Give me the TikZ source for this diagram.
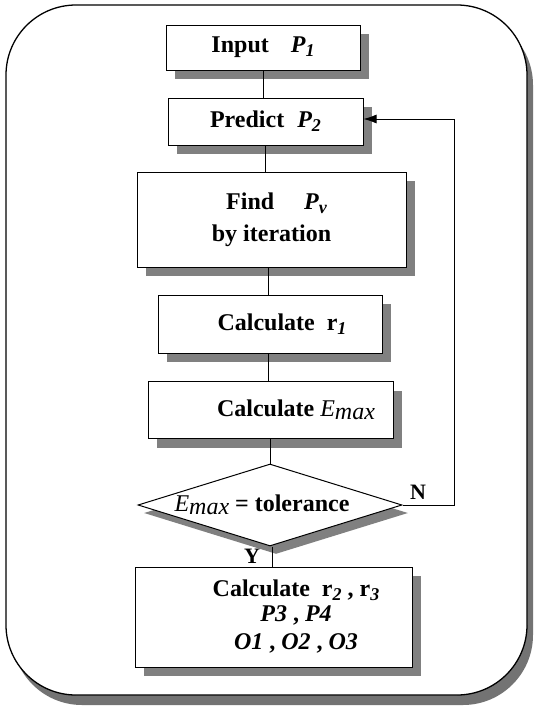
\documentclass[tikz,border=0pt]{standalone}
\usepackage{fontspec}
\setmainfont{Liberation Serif}
\usetikzlibrary{shapes.geometric,shadows,arrows.meta}
\newcommand\bi[1]{{\bfseries\itshape #1}}
\newcommand\sbs[1]{\raisebox{-0.35ex}{\fontsize{18}{18}\selectfont\bfseries\itshape #1}}
\newcommand\emx{{\mdseries\itshape E\raisebox{-0.3ex}{max}}}
\begin{document}
\begin{tikzpicture}[x=1pt,y=-1pt,
  shd/.style={drop shadow={shadow xshift=9pt, shadow yshift=-9pt, fill=black!50, opacity=1}},
  box/.style={draw, fill=white, line width=1pt, inner sep=0pt, align=center,
    font=\fontsize{24}{32}\selectfont\bfseries, shd},
  dia/.style={diamond, aspect=3.2, draw, fill=white, line width=1pt, inner sep=0pt,
    font=\fontsize{24}{32}\selectfont\bfseries,
    drop shadow={shadow xshift=6pt, shadow yshift=-8pt, fill=black!50, opacity=1}},
  conn/.style={draw, line width=0.9pt},
  lbl/.style={font=\fontsize{22}{24}\selectfont\bfseries, inner sep=0pt}]
\path[use as bounding box] (0,0) rectangle (533,707);
% frame
\fill[black!55, rounded corners=70pt] (12,15) rectangle (533,705);
\draw[fill=white, line width=1.3pt, rounded corners=70pt] (6,5) rectangle (527,695);
% nodes
\node[box, minimum width=194pt, minimum height=45pt] (inp) at (263,47.5)
  {Input\hspace{22pt}\bi{P}\sbs{1}};
\node[box, minimum width=195pt, minimum height=47pt] (pr) at (265.5,121.5)
  {Predict\hspace{13pt}\bi{P}\sbs{2}};
\node[box, minimum width=269pt, minimum height=95pt] (fd) at (271.5,219.5)
  {\hspace*{10pt}Find\hspace{30pt}\bi{P}\sbs{v}\\by iteration};
\node[box, minimum width=224pt, minimum height=58pt] (r1) at (270,324)
  {\hspace*{24pt}Calculate~~r\sbs{1}};
\node[box, minimum width=245pt, minimum height=57pt] (em) at (270.5,410)
  {\hspace*{51pt}Calculate \emx};
\node[dia, minimum width=264pt, minimum height=82pt] (dm) at (270,505)
  {\emx{} = tolerance\hspace*{16pt}};
\node[box, minimum width=277pt, minimum height=100pt] (fn) at (273.5,617)
  {\hspace*{45pt}Calculate~~r\sbs{2}~,~r\sbs{3}\\[-7pt]
   \hspace*{45pt}\bi{P3}~,~\bi{P4}\\[-4pt]
   \hspace*{45pt}\bi{O1}~,~\bi{O2}~,~\bi{O3}};
\node[lbl] (nl) at (418,492) {N};
\node[lbl] (yl) at (252,556) {Y};
% connectors
\draw[conn] (inp.south) -- (inp.south |- pr.north);
\draw[conn] (pr.south) -- (pr.south |- fd.north);
\draw[conn] ([xshift=-3pt]fd.south) -- ([xshift=-3pt]fd.south |- r1.north);
\draw[conn] ([xshift=-2pt]r1.south) -- ([xshift=-2pt]r1.south |- em.north);
\draw[conn] (em.south) -- (em.south |- dm.north);
\draw[conn] ([xshift=2pt]dm.south) -- ([xshift=2pt]dm.south |- fn.north);
\draw[conn, -{Latex[length=13pt,width=9pt]}] (dm.east) -- ++(52,0) coordinate (fb) |- ([yshift=2.5pt]pr.east);
\end{tikzpicture}
\end{document}
